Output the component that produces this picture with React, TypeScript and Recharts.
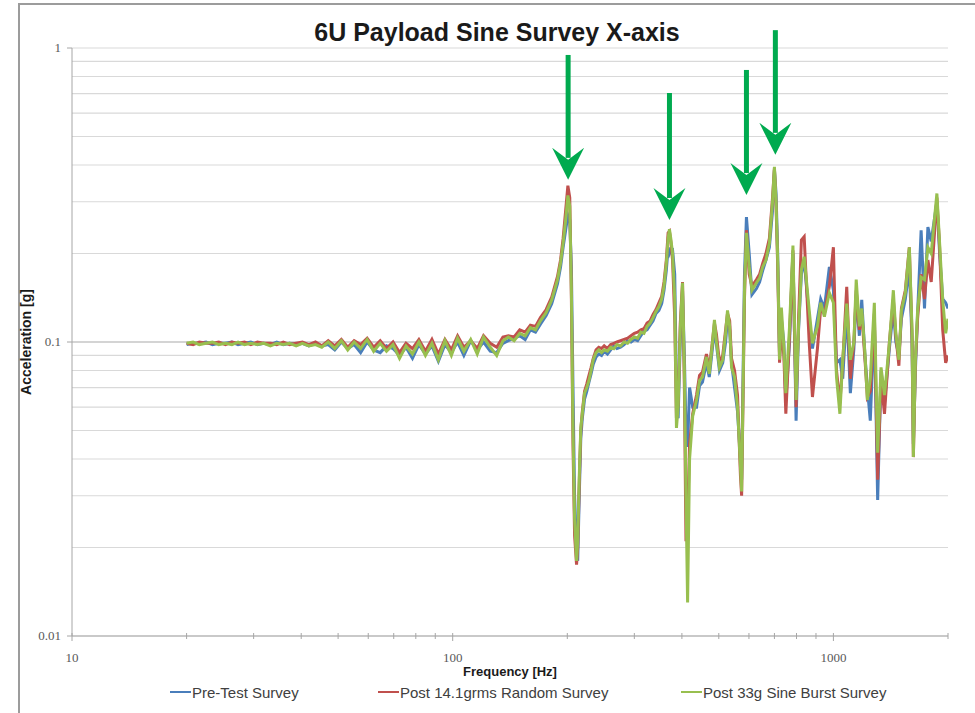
import React from 'react';
import {
  LineChart,
  Line,
  XAxis,
  YAxis,
  CartesianGrid,
  Legend,
  ReferenceLine
} from 'recharts';

// frequency points [Hz]
const FREQ_HZ = [
  20, 20.8, 21.6, 22.5, 23.4, 24.3, 25.3, 26.3, 27.3, 28.4,
  29.5, 30.7, 31.9, 33.2, 34.5, 35.9, 37.3, 38.8, 40.3, 41.9,
  43.6, 45.3, 47.1, 49, 51, 53, 55.1, 57.3, 59.6, 62,
  64.5, 67, 69.7, 72.5, 75.4, 78.4, 81.5, 84.8, 88.2, 91.7,
  95.4, 99.2, 103, 107, 111.5, 116, 120.5, 125.5, 130.5, 135.5,
  140, 145, 150, 155, 160, 165, 170, 176, 182, 188.5,
  192, 195, 198, 200.7, 203, 205, 207, 209, 211.5, 213,
  215, 217, 219, 222, 225, 228, 231, 234, 238, 242,
  246, 250, 255, 260, 265, 270, 276, 282, 288, 294,
  300, 306, 312, 318, 324, 330, 336, 342, 348, 354,
  359, 364, 368, 371, 374, 378, 383, 387, 391, 396,
  401.5, 406, 410, 414, 419, 427, 437, 445, 453, 464,
  472, 481, 487, 493, 502, 512, 521, 527, 534, 540,
  550, 560, 570, 574, 580, 584, 591, 601, 611, 628,
  640, 652, 665, 679, 692, 700, 707, 714, 722, 730,
  741, 750, 767, 783, 790, 798, 810, 824, 838, 864,
  881, 908, 926, 947, 976, 1000, 1019, 1040, 1058, 1084,
  1108, 1132, 1148, 1170, 1187, 1210, 1228, 1250, 1281, 1307,
  1334, 1362, 1403, 1437, 1459, 1486, 1509, 1545, 1583, 1609,
  1622, 1642, 1664, 1700, 1735, 1771, 1807, 1870, 1901, 1937,
  1972, 2000
];

// acceleration [g]
const PRE_TEST = [
  .098, .099, .099, .1, .098, .099, .099, .1, .098, .099,
  .1, .098, .099, .098, .1, .098, .099, .098, .099, .097,
  .099, .097, .098, .094, .1, .095, .098, .092, .1, .094,
  .092, .097, .095, .09, .096, .088, .098, .091, .097, .086,
  .098, .092, .1, .09, .101, .094, .1, .093, .092, .099,
  .101, .103, .105, .102, .11, .108, .115, .123, .135, .158,
  .18, .21, .24, .27, .26, .18, .07, .03, .02, .018,
  .03, .047, .055, .064, .068, .073, .078, .084, .089, .091,
  .09, .093, .091, .094, .097, .095, .096, .098, .101, .1,
  .102, .101, .105, .109, .11, .114, .118, .125, .128, .135,
  .15, .175, .21, .2, .205, .206, .17, .07, .055, .1,
  .15, .09, .05, .044, .07, .06, .06, .071, .073, .085,
  .076, .095, .11, .098, .08, .085, .1, .12, .11, .085,
  .07, .058, .04, .034, .09, .17, .266, .2, .145, .152,
  .16, .175, .19, .21, .28, .385, .32, .2, .09, .12,
  .1, .063, .1, .2, .11, .054, .11, .17, .19, .12,
  .095, .12, .14, .13, .18, .15, .085, .087, .075, .13,
  .067, .095, .145, .105, .139, .09, .07, .054, .12, .029,
  .08, .062, .095, .13, .1, .09, .12, .14, .18, .1,
  .045, .08, .125, .24, .13, .246, .22, .3, .2, .14,
  .136, .13
];

const POST_RANDOM = [
  .099, .098, .1, .099, .099, .1, .098, .1, .099, .1,
  .098, .1, .099, .099, .098, .1, .098, .099, .1, .098,
  .1, .097, .101, .097, .102, .096, .101, .098, .103, .096,
  .101, .095, .1, .092, .099, .095, .102, .093, .102, .091,
  .102, .094, .105, .096, .101, .095, .105, .099, .096, .104,
  .105, .104, .11, .108, .114, .113, .121, .129, .142, .167,
  .19, .225, .28, .34, .31, .14, .045, .022, .0175, .02,
  .033, .05, .058, .068, .072, .077, .082, .088, .094, .096,
  .095, .097, .095, .098, .099, .1, .101, .102, .103, .105,
  .107, .108, .11, .111, .116, .118, .124, .129, .136, .143,
  .16, .19, .235, .238, .22, .19, .12, .055, .062, .115,
  .16, .07, .021, .025, .045, .057, .066, .077, .079, .091,
  .081, .1, .116, .106, .085, .09, .11, .125, .118, .088,
  .08, .066, .035, .03, .075, .14, .24, .17, .155, .163,
  .17, .185, .2, .225, .31, .39, .29, .18, .085, .11,
  .09, .057, .105, .205, .11, .06, .12, .222, .228, .099,
  .065, .095, .13, .125, .155, .21, .08, .062, .085, .154,
  .075, .1, .15, .11, .125, .088, .065, .068, .125, .034,
  .075, .057, .1, .14, .105, .083, .13, .15, .21, .105,
  .0406, .085, .12, .17, .14, .19, .16, .31, .21, .11,
  .085, .09
];

const POST_SINE = [
  .099, .1, .098, .099, .1, .098, .099, .098, .1, .098,
  .099, .098, .099, .097, .099, .098, .099, .097, .099, .097,
  .098, .096, .1, .095, .101, .094, .1, .095, .102, .093,
  .099, .093, .098, .088, .097, .091, .1, .09, .099, .087,
  .101, .09, .103, .093, .102, .091, .104, .096, .09, .101,
  .104, .101, .107, .105, .112, .11, .118, .126, .139, .163,
  .186, .217, .26, .315, .29, .15, .05, .025, .018, .021,
  .035, .051, .057, .067, .07, .074, .08, .087, .092, .094,
  .092, .094, .093, .096, .095, .098, .097, .1, .099, .102,
  .104, .103, .108, .107, .113, .116, .121, .127, .132, .14,
  .155, .185, .225, .242, .225, .2, .14, .051, .06, .11,
  .159, .08, .03, .013, .04, .056, .0635, .074, .076, .089,
  .078, .099, .119, .1, .082, .087, .107, .128, .113, .082,
  .076, .06, .0376, .031, .08, .15, .235, .18, .15, .159,
  .165, .18, .19, .217, .3, .394, .3, .19, .087, .131,
  .096, .067, .113, .213, .12, .0635, .113, .176, .195, .128,
  .099, .113, .136, .122, .147, .136, .076, .057, .087, .135,
  .087, .1, .163, .113, .13, .092, .0635, .075, .136, .042,
  .082, .066, .099, .15, .107, .087, .128, .147, .21, .11,
  .0406, .087, .128, .166, .163, .21, .2, .32, .217, .139,
  .107, .12
];

// green callout arrows marking the resonances
const ARROW_FREQ = [201, 371, 591, 704];
const ARROW_TOP = [0.947, 0.703, 0.842, 1.15];
const ARROW_TIP = [0.356, 0.26, 0.316, 0.433];

const X_TICKS = [10, 20, 30, 40, 50, 60, 70, 80, 90, 100, 200, 300, 400, 500, 600, 700, 800, 900, 1000, 2000];
const X_MAJOR = [10, 100, 1000];
const Y_TICKS = [0.01, 0.02, 0.03, 0.04, 0.05, 0.06, 0.07, 0.08, 0.09, 0.1, 0.2, 0.3, 0.4, 0.5, 0.6, 0.7, 0.8, 0.9, 1];
const Y_MAJOR = [0.01, 0.1, 1];

const SERIES = [
  { key: 'pre', name: 'Pre-Test Survey', color: '#4a7ebb', values: PRE_TEST },
  { key: 'random', name: 'Post 14.1grms Random Survey', color: '#c0504d', values: POST_RANDOM },
  { key: 'sine', name: 'Post 33g Sine Burst Survey', color: '#98bf4f', values: POST_SINE }
];

const data = FREQ_HZ.map((f, i) => {
  const row: Record<string, number> = { f };
  SERIES.forEach(s => { row[s.key] = s.values[i]; });
  return row;
});

const AXIS_GRAY = '#a6a6a6';
const LABEL_FONT = '"Liberation Serif", serif';
const SANS = '"Liberation Sans", Arial, sans-serif';
const NARROW = '"Liberation Sans Narrow", "Liberation Sans", Arial, sans-serif';
const ARROW_GREEN = '#00aa4f';

const XTick = (props: any) => {
  const { x, y, payload } = props;
  const major = X_MAJOR.includes(payload.value);
  return (
    <g>
      <line x1={x} x2={x} y1={y - 3} y2={y + (major ? 5 : 3)} stroke={AXIS_GRAY} />
      {major && (
        <text x={x} y={y + 26} textAnchor="middle" fontSize={13} fill="#595959" fontFamily={LABEL_FONT}>
          {payload.value}
        </text>
      )}
    </g>
  );
};

const YTick = (props: any) => {
  const { x, y, payload } = props;
  if (!Y_MAJOR.includes(payload.value)) return <g />;
  return (
    <g>
      <line x1={x - 5} x2={x} y1={y} y2={y} stroke={AXIS_GRAY} />
      <text x={x - 11} y={y + 4} textAnchor="end" fontSize={13} fill="#595959" fontFamily={LABEL_FONT}>
        {payload.value}
      </text>
    </g>
  );
};

// the 0.1 gridline is drawn darker than the minor ones
const GridLine = (props: any) => {
  const { x1, x2, y1, y2, y, height } = props;
  const mid = Math.abs(y1 - (y + height / 2)) < 1;
  return <line x1={x1} x2={x2} y1={y1} y2={y2} stroke={mid ? '#a9a9a9' : '#d9d9d9'} strokeWidth={1.2} />;
};

const Arrow = (props: any) => {
  const { x1, y1, y2 } = props;
  const top = Math.min(y1, y2);
  const tip = Math.max(y1, y2);
  const head = 32;
  return (
    <g>
      <line x1={x1} x2={x1} y1={top} y2={tip - head + 10} stroke={ARROW_GREEN} strokeWidth={5} />
      <polygon
        points={`${x1},${tip} ${x1 - 16},${tip - head} ${x1},${tip - head + 12} ${x1 + 16},${tip - head}`}
        fill={ARROW_GREEN}
      />
    </g>
  );
};

const LEGEND_LEFT = [170, 378, 681];

const renderLegend = (props: any) => {
  const { payload } = props;
  return (
    <div style={{ position: 'relative', width: 975, height: 20 }}>
      {payload.map((item: any) => {
        const i = SERIES.findIndex(s => s.name === item.value);
        return (
          <div
            key={item.value}
            style={{ position: 'absolute', left: LEGEND_LEFT[i], top: 0, height: 20, display: 'flex', alignItems: 'center' }}
          >
            <span style={{ display: 'inline-block', width: 21, height: 2, background: SERIES[i].color, marginRight: 1 }} />
            <span style={{ fontFamily: NARROW, fontSize: 15, color: '#404040', whiteSpace: 'nowrap' }}>{item.value}</span>
          </div>
        );
      })}
    </div>
  );
};

export default function App() {
  return (
    <div style={{ position: 'fixed', left: 0, top: 0, width: 975, height: 713, background: '#fff', overflow: 'hidden' }}>
      <div style={{ position: 'absolute', left: 18, top: 3, width: 957, height: 2, background: '#9c9c9c' }} />
      <div style={{ position: 'absolute', left: 18, top: 3, width: 2, height: 710, background: '#9c9c9c' }} />
      <div
        style={{
          position: 'absolute', left: 297, top: 16, width: 400, textAlign: 'center',
          fontFamily: NARROW, fontWeight: 'bold', fontSize: 25, color: '#1a1a1a', lineHeight: '32px'
        }}
      >
        6U Payload Sine Survey X-axis
      </div>
      <LineChart width={975} height={713} data={data} margin={{ top: 48, right: 27, left: 20, bottom: 17 }}>
        <CartesianGrid vertical={false} horizontal={GridLine} />
        <XAxis
          dataKey="f"
          type="number"
          scale="log"
          domain={[10, 2000]}
          ticks={X_TICKS}
          interval={0}
          allowDataOverflow
          tick={XTick}
          tickLine={false}
          tickSize={0}
          tickMargin={0}
          axisLine={{ stroke: AXIS_GRAY }}
          height={40}
          label={{
            value: 'Frequency [Hz]', position: 'insideBottom', offset: 0,
            style: { fontFamily: SANS, fontWeight: 'bold', fontSize: 13, fill: '#1a1a1a' }
          }}
        />
        <YAxis
          type="number"
          scale="log"
          domain={[0.01, 1]}
          ticks={Y_TICKS}
          interval={0}
          allowDataOverflow
          tick={YTick}
          tickLine={false}
          tickSize={0}
          tickMargin={0}
          axisLine={{ stroke: AXIS_GRAY }}
          width={52}
          label={{
            value: 'Acceleration [g]', angle: -90, position: 'insideLeft', offset: 6,
            style: { textAnchor: 'middle', fontFamily: SANS, fontWeight: 'bold', fontSize: 14, fill: '#1a1a1a' }
          }}
        />
        <Legend content={renderLegend} verticalAlign="bottom" width={975} wrapperStyle={{ left: 0, top: 682 }} />
        {SERIES.map(s => (
          <Line
            key={s.key}
            dataKey={s.key}
            name={s.name}
            stroke={s.color}
            strokeWidth={3}
            dot={false}
            activeDot={false}
            type="linear"
            isAnimationActive={false}
          />
        ))}
        {ARROW_FREQ.map((f, i) => (
          <ReferenceLine
            key={f}
            segment={[{ x: f, y: ARROW_TOP[i] }, { x: f, y: ARROW_TIP[i] }]}
            ifOverflow="visible"
            shape={Arrow}
          />
        ))}
      </LineChart>
    </div>
  );
}
